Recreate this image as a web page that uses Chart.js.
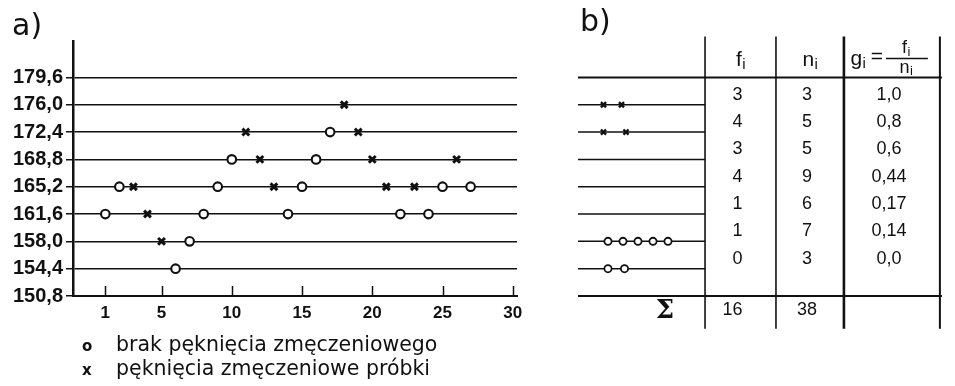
<!DOCTYPE html>
<html lang="pl">
<head>
<meta charset="UTF-8">
<title>Próba schodkowa</title>
<script src="https://cdn.jsdelivr.net/npm/chart.js"></script>
<style>
  body { margin: 0; background: #fff; }
  #wrap { position: relative; width: 955px; height: 386px; overflow: hidden; font-family: "DejaVu Sans", sans-serif; color: #111; }
  .box { position: absolute; top: 0; height: 386px; }
  .lbl { position: absolute; font-family: "DejaVu Sans", sans-serif; font-size: 30px; line-height: 30px; }
  .leg { position: absolute; left: 82px; font-size: 20.5px; line-height: 24px; white-space: nowrap; }
  .leg b { display: inline-block; width: 34px; font-size: 15px; }
</style>
</head>
<body>
<div id="wrap">
  <div class="box" style="left:0;width:540px"><canvas id="chartA"></canvas></div>
  <div class="box" style="left:540px;width:415px"><canvas id="chartB"></canvas></div>
  <div class="lbl" style="left:12px;top:10px">a)</div>
  <div class="lbl" style="left:580px;top:6px">b)</div>
  <div class="leg" style="top:332px"><b>o</b>brak pęknięcia zmęczeniowego</div>
  <div class="leg" style="top:356px"><b>x</b>pęknięcia zmęczeniowe próbki</div>
</div>
<script>
// poziomy naprężeń i etykiety osi
const levels = [150.8, 154.4, 158.0, 161.6, 165.2, 168.8, 172.4, 176.0, 179.6];
const levelLabels = ['150,8', '154,4', '158,0', '161,6', '165,2', '168,8', '172,4', '176,0', '179,6'];
const xTickValues = [1, 5, 10, 15, 20, 25, 30];

// kolejne próbki: numer, poziom, 1 = pęknięcie
const sampleNo = [1, 2, 3, 4, 5, 6, 7, 8, 9, 10, 11, 12, 13, 14, 15, 16, 17, 18, 19, 20, 21, 22, 23, 24, 25, 26, 27];
const sampleLevel = [161.6, 165.2, 165.2, 161.6, 158.0, 154.4, 158.0, 161.6, 165.2, 168.8, 172.4, 168.8, 165.2, 161.6,
                     165.2, 168.8, 172.4, 176.0, 172.4, 168.8, 165.2, 161.6, 165.2, 161.6, 165.2, 168.8, 165.2];
const sampleCracked = [0, 0, 1, 1, 1, 0, 0, 0, 0, 0, 1, 1, 1, 0, 0, 0, 0, 1, 1, 1, 1, 0, 1, 0, 0, 1, 0];

// tabela b)
const tableLevels = [176.0, 172.4, 168.8, 165.2, 161.6, 158.0, 154.4];
const fCol = [3, 4, 3, 4, 1, 1, 0];
const nCol = [3, 5, 5, 9, 6, 7, 3];
const gCol = ['1,0', '0,8', '0,6', '0,44', '0,17', '0,14', '0,0'];
const sumF = 16;
const sumN = 38;
const stubCrossLevel = [176.0, 176.0, 172.4, 172.4];
const stubCrossPos = [1.7, 2.9, 1.7, 3.2];
const stubCircleLevel = [158.0, 158.0, 158.0, 158.0, 158.0, 154.4, 154.4];
const stubCirclePos = [2, 3, 4, 5, 6, 2, 3.1];

const INK = '#111';
const Y_MIN = 150.8, Y_MAX = 184.4;

const circles = [], crosses = [];
sampleNo.forEach((n, i) => {
  const p = { x: n, y: sampleLevel[i] };
  (sampleCracked[i] ? crosses : circles).push(p);
});

const circleStyle = { pointStyle: 'circle', pointRadius: 4.3, borderWidth: 2.1, borderColor: INK, backgroundColor: '#fff', showLine: false };
const crossStyle = { pointStyle: 'crossRot', pointRadius: 4.8, borderWidth: 3, borderColor: INK, backgroundColor: INK, showLine: false };

const upTicks = {
  id: 'upTicks',
  afterDraw(chart) {
    const { ctx, scales: { x }, chartArea } = chart;
    ctx.save();
    ctx.strokeStyle = INK;
    ctx.lineWidth = 1.5;
    xTickValues.forEach(v => {
      const px = Math.round(x.getPixelForValue(v)) + 0.5;
      ctx.beginPath();
      ctx.moveTo(px, chartArea.bottom);
      ctx.lineTo(px, chartArea.bottom - 10);
      ctx.stroke();
    });
    ctx.restore();
  }
};

new Chart(document.getElementById('chartA'), {
  type: 'scatter',
  data: {
    datasets: [
      Object.assign({ label: 'brak pęknięcia', data: circles }, circleStyle),
      Object.assign({ label: 'pęknięcie', data: crosses }, crossStyle)
    ]
  },
  options: {
    responsive: true,
    maintainAspectRatio: false,
    animation: false,
    layout: { padding: { top: 41, right: 23, bottom: 60, left: 0 } },
    plugins: { legend: { display: false }, tooltip: { enabled: false } },
    scales: {
      x: {
        type: 'linear', min: -1.3, max: 30.3,
        afterBuildTicks: s => { s.ticks = xTickValues.map(v => ({ value: v })); },
        afterFit: s => { s.height = 30; },
        ticks: { color: INK, padding: 7, maxRotation: 0, autoSkip: false,
                 font: { family: 'Liberation Sans', size: 17, weight: 'bold' } },
        grid: { display: false, drawTicks: false },
        border: { display: true, color: INK, width: 2 }
      },
      y: {
        type: 'linear', min: Y_MIN, max: Y_MAX,
        afterBuildTicks: s => { s.ticks = levels.map(v => ({ value: v })); },
        afterFit: s => { s.width = 73; },
        ticks: { color: INK, padding: 3, callback: (v, i) => levelLabels[i],
                 font: { family: 'Liberation Sans', size: 20, weight: 'bold' } },
        grid: { color: INK, lineWidth: 1.5, tickLength: 7 },
        border: { display: true, color: INK, width: 2.5 }
      }
    }
  },
  plugins: [upTicks]
});

function subText(ctx, base, sub, cx, cy, size) {
  ctx.font = size + 'px "Liberation Sans"';
  const w1 = ctx.measureText(base).width;
  ctx.font = Math.round(size * 0.7) + 'px "Liberation Sans"';
  const w2 = ctx.measureText(sub).width;
  const left = cx - (w1 + w2) / 2;
  ctx.textAlign = 'left';
  ctx.textBaseline = 'middle';
  ctx.font = size + 'px "Liberation Sans"';
  ctx.fillText(base, left, cy);
  ctx.font = Math.round(size * 0.7) + 'px "Liberation Sans"';
  ctx.fillText(sub, left + w1 + 0.5, cy + size * 0.22);
}

const table = {
  id: 'table',
  beforeDatasetsDraw(chart) {
    const { ctx, scales: { x, y } } = chart;
    const cols = [8.47, 13.2, 17.73, 24.13];
    const X = v => x.getPixelForValue(v);
    const Y = v => y.getPixelForValue(v);
    ctx.save();
    ctx.strokeStyle = INK;
    ctx.fillStyle = INK;
    // linie poziomow przy probkach
    ctx.lineWidth = 1.5;
    tableLevels.forEach(l => {
      ctx.beginPath();
      ctx.moveTo(X(0), Y(l));
      ctx.lineTo(X(cols[0]), Y(l));
      ctx.stroke();
    });
    ctx.lineWidth = 2;
    [Y_MAX - 4.8, Y_MIN].forEach(l => {
      ctx.beginPath();
      ctx.moveTo(X(0), Y(l));
      ctx.lineTo(X(cols[3]) + 2, Y(l));
      ctx.stroke();
    });
    // kolumny
    [1.6, 1.6, 2.6, 2].forEach((w, i) => {
      ctx.lineWidth = w;
      ctx.beginPath();
      ctx.moveTo(X(cols[i]), Y(185.0));
      ctx.lineTo(X(cols[i]), Y(146.5));
      ctx.stroke();
    });
    const c1 = (X(cols[0]) + X(cols[1])) / 2;
    const c2 = (X(cols[1]) + X(cols[2])) / 2;
    const c3 = (X(cols[2]) + X(cols[3])) / 2;
    // naglowek
    const hy = Y(181.9);
    subText(ctx, 'f', 'i', c1, hy, 21);
    subText(ctx, 'n', 'i', c2, hy, 21);
    subText(ctx, 'g', 'i', X(cols[2]) + 14, hy - 1, 21);
    ctx.font = '21px "Liberation Sans"';
    ctx.textAlign = 'center';
    ctx.fillText('=', X(cols[2]) + 33, hy - 3);
    const fx = X(cols[2]) + 62;
    subText(ctx, 'f', 'i', fx, Y(183.2) - 2, 18);
    subText(ctx, 'n', 'i', fx, Y(181.0) + 1, 18);
    ctx.lineWidth = 1.5;
    ctx.beginPath();
    ctx.moveTo(fx - 20, Y(182.1));
    ctx.lineTo(fx + 22, Y(182.1));
    ctx.stroke();
    // wiersze
    ctx.font = '18px "Liberation Sans"';
    ctx.textBaseline = 'middle';
    ctx.textAlign = 'center';
    tableLevels.forEach((l, i) => {
      const ty = Y(l + 1.6) + 2;
      ctx.fillText(String(fCol[i]), c1 - 3, ty);
      ctx.fillText(String(nCol[i]), c2 - 3, ty);
      ctx.fillText(gCol[i], c3 - 3, ty);
    });
    const sy = Y(Y_MIN - 1.8);
    ctx.fillText(String(sumF), c1 - 8, sy);
    ctx.fillText(String(sumN), c2 - 3, sy);
    ctx.font = 'bold 26px "DejaVu Serif"';
    ctx.fillText('\u03A3', X(5.8), sy + 2);
    ctx.restore();
  }
};

new Chart(document.getElementById('chartB'), {
  type: 'scatter',
  data: {
    datasets: [
      Object.assign({ label: 'o', data: stubCirclePos.map((p, i) => ({ x: p, y: stubCircleLevel[i] })) }, circleStyle, { pointRadius: 3.6, borderWidth: 1.8 }),
      Object.assign({ label: 'x', data: stubCrossPos.map((p, i) => ({ x: p, y: stubCrossLevel[i] })) }, crossStyle, { pointRadius: 3.6, borderWidth: 2.4 })
    ]
  },
  options: {
    responsive: true,
    maintainAspectRatio: false,
    animation: false,
    layout: { padding: { top: 41, right: 13, bottom: 90, left: 38 } },
    plugins: { legend: { display: false }, tooltip: { enabled: false } },
    scales: {
      x: { type: 'linear', display: false, min: 0, max: 24.27 },
      y: { type: 'linear', display: false, min: Y_MIN, max: Y_MAX }
    }
  },
  plugins: [table]
});
</script>
</body>
</html>
